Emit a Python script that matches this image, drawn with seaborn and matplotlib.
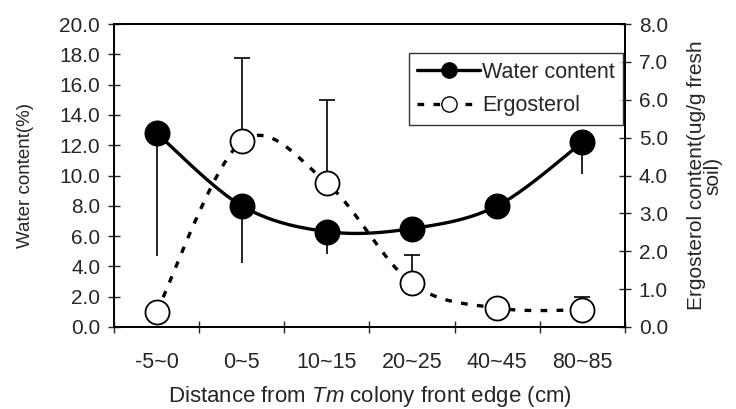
import numpy as np
import pandas as pd
import matplotlib.pyplot as plt
import seaborn as sns
from matplotlib.lines import Line2D
from matplotlib.ticker import MultipleLocator, FixedLocator

categories = ["-5~0", "0~5", "10~15", "20~25", "40~45", "80~85"]
water = [12.8, 8.0, 6.3, 6.5, 8.0, 12.2]
water_err = [8.1, 3.8, 1.5, 0.0, 0.0, 2.1]
ergosterol = [0.4, 4.9, 3.8, 1.15, 0.5, 0.45]
ergo_err = [0.0, 2.2, 2.2, 0.75, 0.0, 0.35]

sns.set_theme(style="ticks")
plt.rcParams["font.family"] = ["Liberation Sans", "DejaVu Sans"]
plt.rcParams["mathtext.fontset"] = "custom"
plt.rcParams["mathtext.it"] = "Liberation Sans:italic"


def smooth(xs, ys, n=40):
    # Excel-style smoothed line (Bezier with 1/6 tangents)
    p = np.column_stack([xs, ys]).astype(float)
    pts = np.vstack([p[0], p, p[-1]])
    out = []
    t = np.linspace(0, 1, n)[:, None]
    for i in range(1, len(pts) - 2):
        p0, p1 = pts[i], pts[i + 1]
        c1 = p0 + (pts[i + 1] - pts[i - 1]) / 6
        c2 = p1 - (pts[i + 2] - pts[i]) / 6
        seg = (1 - t) ** 3 * p0 + 3 * (1 - t) ** 2 * t * c1 + 3 * (1 - t) * t ** 2 * c2 + t ** 3 * p1
        out.append(seg)
    out = np.vstack(out)
    return out[:, 0], out[:, 1]


x = np.arange(len(categories))
df = pd.DataFrame({"x": x, "water": water, "ergosterol": ergosterol})

fig = plt.figure(figsize=(7.36, 4.09), dpi=100)
ax = fig.add_axes([0.155, 0.2005, 0.694, 0.7405])
ax2 = ax.twinx()

# water content (left axis)
sx, sy = smooth(x, water)
sns.lineplot(x=sx, y=sy, ax=ax, color="black", lw=2.4, sort=False, zorder=2)
ax.errorbar(x, water, yerr=[water_err, np.zeros(len(x))], fmt="none", ecolor="black",
            elinewidth=1.2, capsize=0, zorder=1)
sns.scatterplot(data=df, x="x", y="water", ax=ax, color="black", s=300, edgecolor="black",
                zorder=3, legend=False)

# ergosterol (right axis)
sx2, sy2 = smooth(x, ergosterol)
sns.lineplot(x=sx2, y=sy2, ax=ax2, color="black", lw=2.4, sort=False, zorder=2)
ax2.lines[-1].set_dashes([2.0, 2.8])
ax2.errorbar(x, ergosterol, yerr=[np.zeros(len(x)), ergo_err], fmt="none", ecolor="black",
             elinewidth=1.2, capsize=6, capthick=1.2, zorder=1)
sns.scatterplot(data=df, x="x", y="ergosterol", ax=ax2, color="white", s=300, edgecolor="black",
                linewidth=1.3, zorder=3, legend=False)

ax.set_xlim(-0.5, len(categories) - 0.5)
ax.set_ylim(0, 20)
ax2.set_ylim(0, 8)
ax.yaxis.set_major_locator(MultipleLocator(2))
ax2.yaxis.set_major_locator(MultipleLocator(1))
ax.yaxis.set_major_formatter("{x:.1f}")
ax2.yaxis.set_major_formatter("{x:.1f}")

ax.set_xticks(x)
ax.set_xticklabels(categories)
ax.xaxis.set_minor_locator(FixedLocator(np.arange(-0.5, len(categories), 1.0)))
ax.tick_params(axis="x", which="major", length=0, pad=18, labelsize=15.5)
ax.tick_params(axis="x", which="minor", length=8, direction="inout", width=1)
ax.tick_params(axis="y", length=8, direction="inout", width=1, labelsize=15, pad=6)
ax2.tick_params(axis="y", length=8, direction="inout", width=1, labelsize=15, pad=6)

for a in (ax, ax2):
    for s in a.spines.values():
        s.set_linewidth(1.4)
        s.set_color("black")

ax.set_xlabel(r"Distance from $\mathit{Tm}$ colony front edge (cm)", fontsize=16, labelpad=8)
ax.set_ylabel("Water content(%)", fontsize=13.5, labelpad=18)
ax2.set_ylabel("Ergosterol content(ug/g fresh\nsoil)", fontsize=15, labelpad=14,
               linespacing=0.8)

handles = [
    Line2D([], [], color="black", lw=2.4, marker="o", markersize=11, markerfacecolor="black"),
    Line2D([], [], color="black", lw=2.4, ls=(0, (2.0, 2.8)), marker="o", markersize=11,
           markerfacecolor="white", markeredgecolor="black"),
]
leg = ax2.legend(handles, ["Water content", "Ergosterol"], loc="upper left",
                 bbox_to_anchor=(0.577, 0.905), frameon=True, fancybox=False, fontsize=15.5,
                 handlelength=2.9, handletextpad=0.1, borderpad=0.4, borderaxespad=0,
                 labelspacing=0.6)
leg.get_frame().set_edgecolor("black")
leg.get_frame().set_linewidth(1.0)
leg.set_zorder(10)

fig.savefig("out.png", dpi=100)
